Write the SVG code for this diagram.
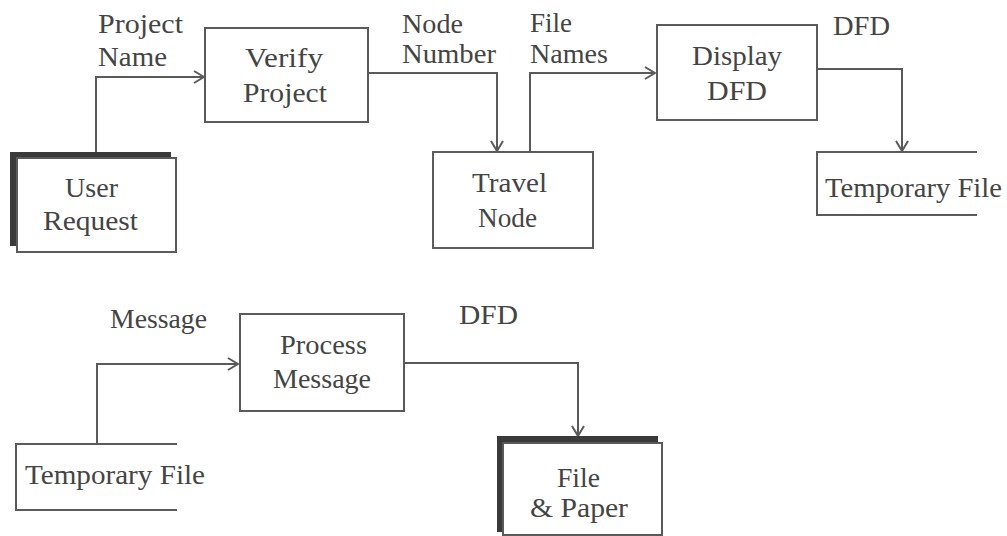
<svg xmlns="http://www.w3.org/2000/svg" width="1007" height="536" viewBox="0 0 1007 536">
<defs>
<style>
.box{fill:none;stroke:#5a5a5a;stroke-width:2}
.shadow{fill:#3a3a3a;stroke:none}
.store{fill:none;stroke:#5a5a5a;stroke-width:2}
.conn{fill:none;stroke:#5a5a5a;stroke-width:2;marker-end:url(#arr)}
text{font-family:"Liberation Serif","Times New Roman",serif;font-size:27px;fill:#444444}
</style>
<marker id="arr" viewBox="0 0 12 14" refX="11" refY="7" markerWidth="12" markerHeight="14" markerUnits="userSpaceOnUse" orient="auto">
<path d="M1,1 L11,7 L1,13" fill="none" stroke="#5a5a5a" stroke-width="2"/>
</marker>
</defs>
<rect width="1007" height="536" fill="#ffffff"/>

<g id="connectors">
<path class="conn" d="M96,155 V77 H204"/>
<path class="conn" d="M368,73 H497 V151"/>
<path class="conn" d="M530,152 V73 H655"/>
<path class="conn" d="M817,69 H902 V151"/>
<path class="conn" d="M97,444 V364 H238"/>
<path class="conn" d="M404,363 H578 V436"/>
</g>

<g id="labels">
<text x="98" y="33" textLength="85" lengthAdjust="spacingAndGlyphs">Project</text>
<text x="98" y="66" textLength="69" lengthAdjust="spacingAndGlyphs">Name</text>
<text x="402" y="33" textLength="61" lengthAdjust="spacingAndGlyphs">Node</text>
<text x="402" y="63" textLength="94" lengthAdjust="spacingAndGlyphs">Number</text>
<text x="530" y="32" textLength="42" lengthAdjust="spacingAndGlyphs">File</text>
<text x="530" y="63" textLength="78" lengthAdjust="spacingAndGlyphs">Names</text>
<text x="833" y="35" textLength="57" lengthAdjust="spacingAndGlyphs">DFD</text>
<text x="110" y="328" textLength="97" lengthAdjust="spacingAndGlyphs">Message</text>
<text x="459" y="324" textLength="59" lengthAdjust="spacingAndGlyphs">DFD</text>
</g>

<g id="user-request">
<rect class="shadow" x="10" y="152" width="161" height="6"/>
<rect class="shadow" x="10" y="152" width="7" height="94"/>
<rect class="box" x="17" y="158" width="159" height="94"/>
<text x="65" y="197" textLength="53" lengthAdjust="spacingAndGlyphs">User</text>
<text x="43" y="230" textLength="95" lengthAdjust="spacingAndGlyphs">Request</text>
</g>

<g id="verify-project">
<rect class="box" x="205" y="28" width="163" height="94"/>
<text x="245" y="67" textLength="78" lengthAdjust="spacingAndGlyphs">Verify</text>
<text x="243" y="102" textLength="84" lengthAdjust="spacingAndGlyphs">Project</text>
</g>

<g id="travel-node">
<rect class="box" x="433" y="152" width="160" height="96"/>
<text x="472" y="192" textLength="75" lengthAdjust="spacingAndGlyphs">Travel</text>
<text x="478" y="227" textLength="59" lengthAdjust="spacingAndGlyphs">Node</text>
</g>

<g id="display-dfd">
<rect class="box" x="657" y="25" width="160" height="95"/>
<text x="692" y="65" textLength="90" lengthAdjust="spacingAndGlyphs">Display</text>
<text x="707" y="100" textLength="60" lengthAdjust="spacingAndGlyphs">DFD</text>
</g>

<g id="temporary-file-1">
<path class="store" d="M977,152 H817 V215 H977"/>
<text x="825" y="197" textLength="177" lengthAdjust="spacingAndGlyphs">Temporary File</text>
</g>

<g id="process-message">
<rect class="box" x="240" y="314" width="164" height="97"/>
<text x="280" y="354" textLength="87" lengthAdjust="spacingAndGlyphs">Process</text>
<text x="273" y="388" textLength="98" lengthAdjust="spacingAndGlyphs">Message</text>
</g>

<g id="temporary-file-2">
<path class="store" d="M177,444 H16 V510 H177"/>
<text x="25" y="484" textLength="180" lengthAdjust="spacingAndGlyphs">Temporary File</text>
</g>

<g id="file-paper">
<rect class="shadow" x="497" y="436" width="161" height="7"/>
<rect class="shadow" x="497" y="436" width="6" height="96"/>
<rect class="box" x="503" y="443" width="159" height="92"/>
<text x="557" y="487" textLength="43" lengthAdjust="spacingAndGlyphs">File</text>
<text x="530" y="517" textLength="98" lengthAdjust="spacingAndGlyphs">&amp; Paper</text>
</g>
</svg>
